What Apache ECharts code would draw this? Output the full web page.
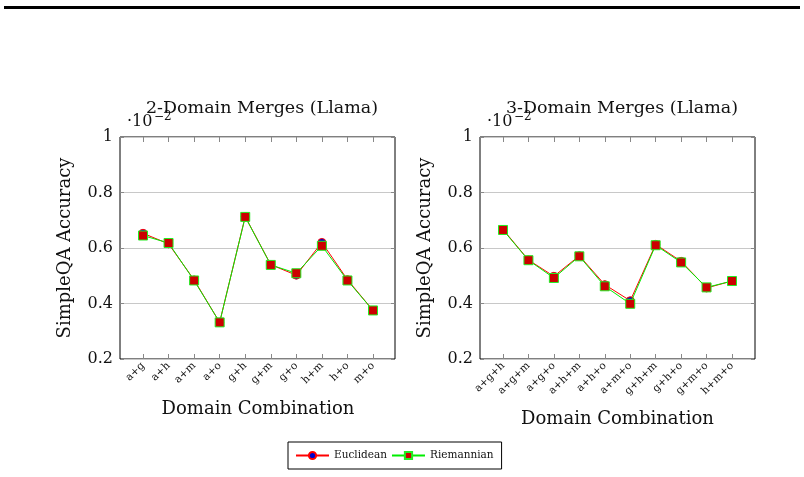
<!DOCTYPE html>
<html>
<head>
<meta charset="utf-8">
<script src="https://cdn.jsdelivr.net/npm/echarts@6/dist/echarts.min.js"></script>
<style>
  html, body { margin: 0; padding: 0; background: #fff; }
  #chart { width: 804px; height: 477px; }
</style>
</head>
<body>
<div id="chart"></div>
<script>
// values are x10^-2
const cats2 = ['a+g', 'a+h', 'a+m', 'a+o', 'g+h', 'g+m', 'g+o', 'h+m', 'h+o', 'm+o'];
const euclid2 = [0.653, 0.615, 0.485, 0.332, 0.713, 0.540, 0.502, 0.620, 0.486, 0.375];
const riem2 = [0.645, 0.618, 0.483, 0.332, 0.712, 0.539, 0.509, 0.608, 0.483, 0.375];

const cats3 = ['a+g+h', 'a+g+m', 'a+g+o', 'a+h+m', 'a+h+o', 'a+m+o', 'g+h+m', 'g+h+o', 'g+m+o', 'h+m+o'];
const euclid3 = [0.667, 0.557, 0.498, 0.572, 0.468, 0.410, 0.613, 0.552, 0.456, 0.481];
const riem3 = [0.665, 0.556, 0.492, 0.570, 0.462, 0.399, 0.610, 0.548, 0.458, 0.481];

const yTicks = [0.2, 0.4, 0.6, 0.8, 1];

const font = 'DejaVu Serif';
const chart = echarts.init(document.getElementById('chart'));

// frame grid (box + y axis) and data grid (category points) for one panel
function frameGrid(left) {
  return { left: left, width: 275, top: 137, height: 222, show: true, borderColor: '#000', borderWidth: 1, backgroundColor: 'transparent' };
}
function dataGrid(left, w) {
  return { left: left, width: w, top: 137, height: 222 };
}

function yFrame(idx) {
  return {
    type: 'value', gridIndex: idx, min: yTicks[0], max: yTicks[yTicks.length - 1], interval: 0.2,
    name: 'SimpleQA Accuracy', nameLocation: 'middle', nameGap: 46,
    nameTextStyle: { fontFamily: font, fontSize: 18, color: '#111' },
    axisLine: { show: false },
    axisTick: { show: true, inside: true, length: 4, lineStyle: { color: '#888' } },
    axisLabel: {
      fontFamily: font, fontSize: 16, color: '#111', margin: 7,
      formatter: (v) => (Math.abs(v - 1) < 1e-9 ? '1' : v.toFixed(1))
    },
    splitLine: { show: true, lineStyle: { color: '#c8c8c8', width: 1 } }
  };
}
function yRight(idx) {
  return {
    type: 'value', gridIndex: idx, position: 'right', min: 0.2, max: 1, interval: 0.2,
    axisLine: { show: false }, axisLabel: { show: false }, splitLine: { show: false },
    axisTick: { show: true, inside: true, length: 4, lineStyle: { color: '#888' } }
  };
}
function yHidden(idx) {
  return { type: 'value', gridIndex: idx, min: 0.2, max: 1, show: false };
}
function xFrame(idx) {
  return { type: 'value', gridIndex: idx, min: 0, max: 1, show: false };
}
function xData(idx, cats, pos, nameGap) {
  const bottom = pos === 'bottom';
  return {
    type: 'category', gridIndex: idx, data: cats, boundaryGap: false, position: pos,
    name: bottom ? 'Domain Combination' : '', nameLocation: 'middle', nameGap: nameGap,
    nameTextStyle: { fontFamily: font, fontSize: 18, color: '#111' },
    axisLine: { show: false },
    axisTick: { show: true, inside: true, length: 5, interval: 0, lineStyle: { color: '#888' } },
    axisLabel: { show: bottom, interval: 0, rotate: 45, fontFamily: font, fontSize: 10.5, color: '#111', margin: 5 },
    splitLine: { show: false }
  };
}

function euclidSeries(x, y, data) {
  return {
    name: 'Euclidean', type: 'line', xAxisIndex: x, yAxisIndex: y, data: data,
    symbol: 'circle', symbolSize: 8, z: 2,
    lineStyle: { color: '#ff0000', width: 1 },
    itemStyle: { color: '#0000cc', borderColor: '#ff0000', borderWidth: 1 }
  };
}
function riemSeries(x, y, data) {
  return {
    name: 'Riemannian', type: 'line', xAxisIndex: x, yAxisIndex: y, data: data,
    symbol: 'rect', symbolSize: 9, z: 3,
    lineStyle: { color: '#00ee00', width: 1 },
    itemStyle: { color: '#cc0000', borderColor: '#22ee22', borderWidth: 1 }
  };
}

const option = {
  animation: false,
  backgroundColor: '#fff',
  grid: [frameGrid(120), dataGrid(143, 230), frameGrid(480), dataGrid(503, 229)],
  xAxis: [
    xFrame(0),
    xData(1, cats2, 'bottom', 41), xData(1, cats2, 'top', 0),
    xFrame(2),
    xData(3, cats3, 'bottom', 51), xData(3, cats3, 'top', 0)
  ],
  yAxis: [
    yFrame(0), yRight(0), yHidden(1),
    yFrame(2), yRight(2), yHidden(3)
  ],
  legend: {
    left: 288, top: 442,
    data: ['Euclidean', 'Riemannian'],
    borderColor: '#000', borderWidth: 1, padding: [8, 8, 8, 7],
    itemWidth: 33, itemHeight: 9, itemGap: 4,
    textStyle: { fontFamily: font, fontSize: 10.5, color: '#111' }
  },
  title: [
    { text: '2-Domain Merges (Llama)', left: 257, top: 94, textAlign: 'center',
      textStyle: { fontFamily: font, fontSize: 17.5, fontWeight: 'normal', color: '#111' } },
    { text: '3-Domain Merges (Llama)', left: 617, top: 94, textAlign: 'center',
      textStyle: { fontFamily: font, fontSize: 17.5, fontWeight: 'normal', color: '#111' } }
  ],
  graphic: [
    { type: 'rect', shape: { x: 4, y: 6, width: 796, height: 3 }, style: { fill: '#000' } },
    { type: 'text', left: 127, top: 114, style: { text: '·10', font: '16px "DejaVu Serif"', fill: '#111' } },
    { type: 'text', left: 154, top: 111, style: { text: '−2', font: '12px "DejaVu Serif"', fill: '#111' } },
    { type: 'text', left: 487, top: 114, style: { text: '·10', font: '16px "DejaVu Serif"', fill: '#111' } },
    { type: 'text', left: 514, top: 111, style: { text: '−2', font: '12px "DejaVu Serif"', fill: '#111' } }
  ],
  series: [
    euclidSeries(1, 2, euclid2), riemSeries(1, 2, riem2),
    euclidSeries(4, 5, euclid3), riemSeries(4, 5, riem3)
  ]
};

chart.setOption(option);
</script>
</body>
</html>
